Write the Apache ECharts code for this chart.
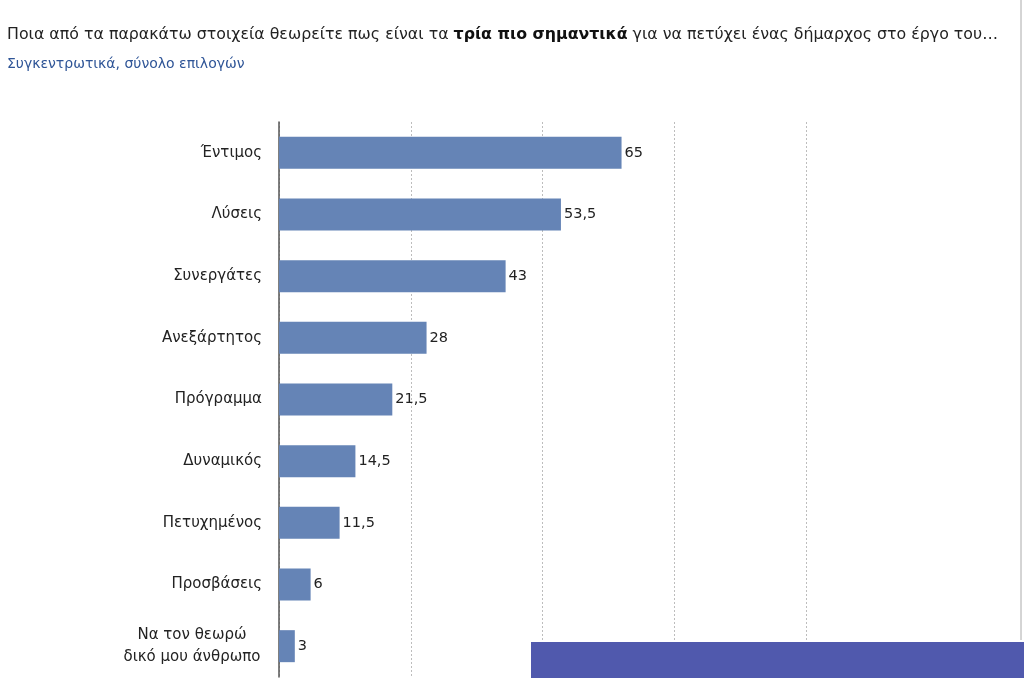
<!DOCTYPE html>
<html>
<head>
<meta charset="utf-8">
<script src="https://cdn.jsdelivr.net/npm/echarts@6/dist/echarts.min.js"></script>
<style>
  html, body { margin: 0; padding: 0; background: #fff; }
  #chart { width: 1024px; height: 678px; }
</style>
</head>
<body>
<div id="chart"></div>
<script>
// κατηγορίες (από πάνω προς τα κάτω)
var categories = [
  "Έντιμος",
  "Λύσεις",
  "Συνεργάτες",
  "Ανεξάρτητος",
  "Πρόγραμμα",
  "Δυναμικός",
  "Πετυχημένος",
  "Προσβάσεις",
  "Να τον θεωρώ\nδικό μου άνθρωπο"
];
var values = [65, 53.5, 43, 28, 21.5, 14.5, 11.5, 6, 3];
var axisTicks = [0, 25, 50, 75, 100];

var chart = echarts.init(document.getElementById("chart"));

var catData = categories.map(function (c) {
  if (c.indexOf("\n") >= 0) {
    return { value: c, textStyle: { align: "center", padding: [0, 140, 0, 0], lineHeight: 22 } };
  }
  return c;
});

chart.setOption({
  animation: false,
  textStyle: { fontFamily: "DejaVu Sans" },
  title: [
    {
      left: 7,
      top: 27,
      padding: 0,
      text: "{n|Ποια από τα παρακάτω στοιχεία θεωρείτε πως είναι τα }{b|τρία πιο σημαντικά}{n| για να πετύχει ένας δήμαρχος στο έργο του…}",
      textStyle: {
        fontWeight: "normal",
        rich: {
          n: { fontSize: 15.8, color: "#222", fontWeight: "normal", fontFamily: "DejaVu Sans" },
          b: { fontSize: 15.8, color: "#111", fontWeight: "bold", fontFamily: "DejaVu Sans" }
        }
      }
    },
    {
      left: 7,
      top: 57,
      padding: 0,
      text: "Συγκεντρωτικά, σύνολο επιλογών",
      textStyle: { fontSize: 14, color: "#2f5597", fontWeight: "normal", fontFamily: "DejaVu Sans" }
    }
  ],
  grid: {
    left: 279,
    top: 122,
    width: 527,
    height: 555
  },
  xAxis: {
    type: "value",
    min: axisTicks[0],
    max: axisTicks[axisTicks.length - 1],
    interval: 25,
    axisLabel: { show: false },
    axisTick: { show: false },
    axisLine: { show: false },
    splitLine: {
      lineStyle: { color: "#bdbdbd", type: [2, 2], width: 1 }
    }
  },
  yAxis: {
    type: "category",
    inverse: true,
    data: catData,
    axisTick: { show: false },
    axisLine: { lineStyle: { color: "#555", width: 1.5 } },
    axisLabel: { margin: 17, fontSize: 15, color: "#222", align: "right", fontFamily: "DejaVu Sans" }
  },
  series: [
    {
      type: "bar",
      data: values,
      barWidth: 32,
      itemStyle: { color: "#6584b6" },
      label: {
        show: true,
        position: "right",
        distance: 3,
        fontSize: 14.5,
        color: "#222",
        fontFamily: "DejaVu Sans",
        formatter: function (p) { return String(p.value).replace(".", ","); }
      }
    }
  ],
  graphic: [
    {
      type: "rect",
      shape: { x: 531, y: 642, width: 493, height: 36 },
      style: { fill: "#5059ad" },
      z: 100
    },
    {
      type: "line",
      shape: { x1: 1021, y1: 0, x2: 1021, y2: 640 },
      style: { stroke: "#aaa", lineWidth: 1 }
    }
  ]
});
</script>
</body>
</html>
